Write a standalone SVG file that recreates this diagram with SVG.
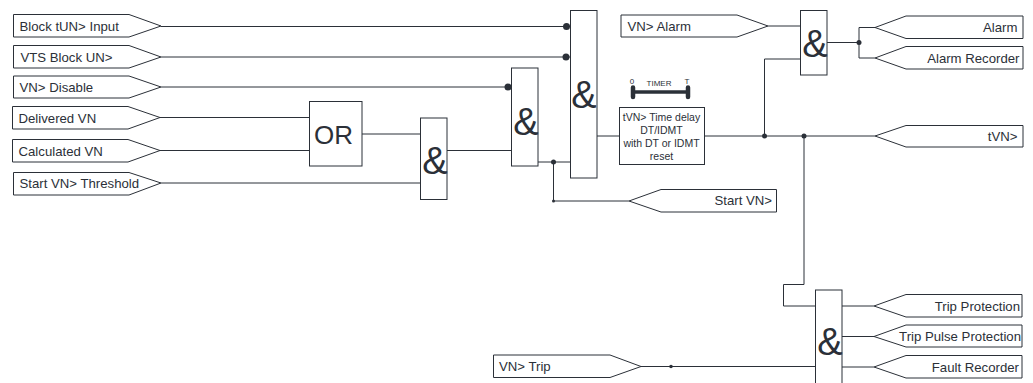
<svg xmlns="http://www.w3.org/2000/svg" width="1033" height="383" viewBox="0 0 1033 383">
<style>
.s{fill:#fff;stroke:#2b3038;stroke-width:1}
.c{fill:none;stroke:#2b3038;stroke-width:1}
.d{fill:#2b3038}
text{font-family:"Liberation Sans",Arial,sans-serif;fill:#2b3038}
.l{font-size:13.2px}
.e{text-anchor:end}
.g{font-size:38px;text-anchor:middle}
.t{font-size:10.5px;text-anchor:middle}
.m{font-size:8px;text-anchor:middle}
</style>
<rect width="1033" height="383" fill="#fff"/>
<g id="connectors">
<path class="c" d="M161 26.500H570.500M161 57H570.500M161 87H511.500M160 117.500H309.500M160 150.500H309.500M161 183H420.500M362 134H420.500M447 150.500H511.500M538 162H570.500M553.500 162V201H629M597 136H619.500M704.500 136H875M764.500 136V59H800.500M768 26H800.500M827 42.500H859M875 27.500H859V58H875M804 136V284.500H783.500V306H815.500M641 366.500H815.500M842 306H874M842 336.500H874M842 367H874"/>
<circle class="d" cx="566.500" cy="26.500" r="3.500"/>
<circle class="d" cx="566" cy="57" r="3.500"/>
<circle class="d" cx="508" cy="87" r="3.500"/>
<circle class="d" cx="553.500" cy="162" r="2.500"/>
<circle class="d" cx="553.500" cy="201" r="1.500"/>
<circle class="d" cx="764.500" cy="136" r="2.500"/>
<circle class="d" cx="804" cy="136" r="2.500"/>
<circle class="d" cx="859" cy="42.500" r="2.500"/>
<circle class="d" cx="671" cy="366.500" r="1.800"/>
</g>
<g id="in-block"><path class="s" d="M13.500 14.500H129L161 26L129 37H13.500Z"/><text class="l" x="19.500" y="31">Block tUN&gt; Input</text></g>
<g id="in-vts"><path class="s" d="M13.500 45.500H129L161 57L129 68H13.500Z"/><text class="l" x="20.500" y="62">VTS Block UN&gt;</text></g>
<g id="in-disable"><path class="s" d="M13.500 76H129L161 87L129 98H13.500Z"/><text class="l" x="19.500" y="92">VN&gt; Disable</text></g>
<g id="in-delivered"><path class="s" d="M12.500 106.500H128L160 117.500L128 129H12.500Z"/><text class="l" x="18.500" y="123">Delivered VN</text></g>
<g id="in-calculated"><path class="s" d="M12.500 139.500H128L160 150.500L128 162H12.500Z"/><text class="l" x="18.500" y="156">Calculated VN</text></g>
<g id="in-start"><path class="s" d="M13.500 172.500H129L161 183L129 195H13.500Z"/><text class="l" x="19.500" y="188">Start VN&gt; Threshold</text></g>
<g id="or"><rect class="s" x="309.500" y="101.500" width="52.500" height="64.500"/><text x="333.500" y="144" text-anchor="middle" style="font-size:26px">OR</text></g>
<g id="and1"><rect class="s" x="420.500" y="118" width="26.500" height="81.500"/><text class="g" x="435" y="174">&amp;</text></g>
<g id="and2"><rect class="s" x="511.500" y="68" width="26.500" height="98"/><text class="g" x="526" y="135">&amp;</text></g>
<g id="and3"><rect class="s" x="570.500" y="10.500" width="26.500" height="167.500"/><text class="g" x="584" y="108">&amp;</text></g>
<g id="timer"><path d="M633 92H688" stroke="#2b3038" stroke-width="3.500" fill="none"/><path d="M633 87.500V97M688 87.500V97" stroke="#2b3038" stroke-width="4.500" stroke-linecap="round" fill="none"/><text class="m" x="632" y="84">0</text><text class="m" x="659" y="86">TIMER</text><text class="m" x="687" y="84">T</text>
<rect class="s" x="619.500" y="107.500" width="85" height="57"/><text class="t" x="661.500" y="121">tVN&gt; Time delay</text><text class="t" x="661.500" y="134">DT/IDMT</text><text class="t" x="661.500" y="147">with DT or IDMT</text><text class="t" x="661.500" y="160">reset</text></g>
<g id="in-alarm"><path class="s" d="M621 15H737L768 26L737 37H621Z"/><text class="l" x="627.500" y="31">VN&gt; Alarm</text></g>
<g id="and4"><rect class="s" x="800.500" y="10.500" width="26.500" height="64.500"/><text class="g" x="815" y="57">&amp;</text></g>
<g id="out-alarm"><path class="s" d="M1023 16H906L875 27.500L906 38.500H1023Z"/><text class="l e" x="1017.500" y="32">Alarm</text></g>
<g id="out-alarmrec"><path class="s" d="M1023 46.500H906L875 58L906 69H1023Z"/><text class="l e" x="1019.500" y="63">Alarm Recorder</text></g>
<g id="out-tvn"><path class="s" d="M1023 125.500H906L875 136L906 147H1023Z"/><text class="l e" x="1017.500" y="141">tVN&gt;</text></g>
<g id="out-start"><path class="s" d="M776.500 189.500H661L629 201L661 212H776.500Z"/><text class="l e" x="772" y="205">Start VN&gt;</text></g>
<g id="in-trip"><path class="s" d="M493.500 355H610L641 366.500L610 377.500H493.500Z"/><text class="l" x="499" y="371">VN&gt; Trip</text></g>
<g id="and5"><rect class="s" x="815.500" y="290" width="26.500" height="100"/><text class="g" x="830" y="355">&amp;</text></g>
<g id="out-trip"><path class="s" d="M1022 294.500H906L874 306L906 317H1022Z"/><text class="l e" x="1020" y="311">Trip Protection</text></g>
<g id="out-pulse"><path class="s" d="M1022 325H906L874 336.500L906 347H1022Z"/><text class="l e" x="1021" y="341">Trip Pulse Protection</text></g>
<g id="out-fault"><path class="s" d="M1022 355.500H906L874 367L906 378H1022Z"/><text class="l e" x="1019" y="372">Fault Recorder</text></g>
</svg>
